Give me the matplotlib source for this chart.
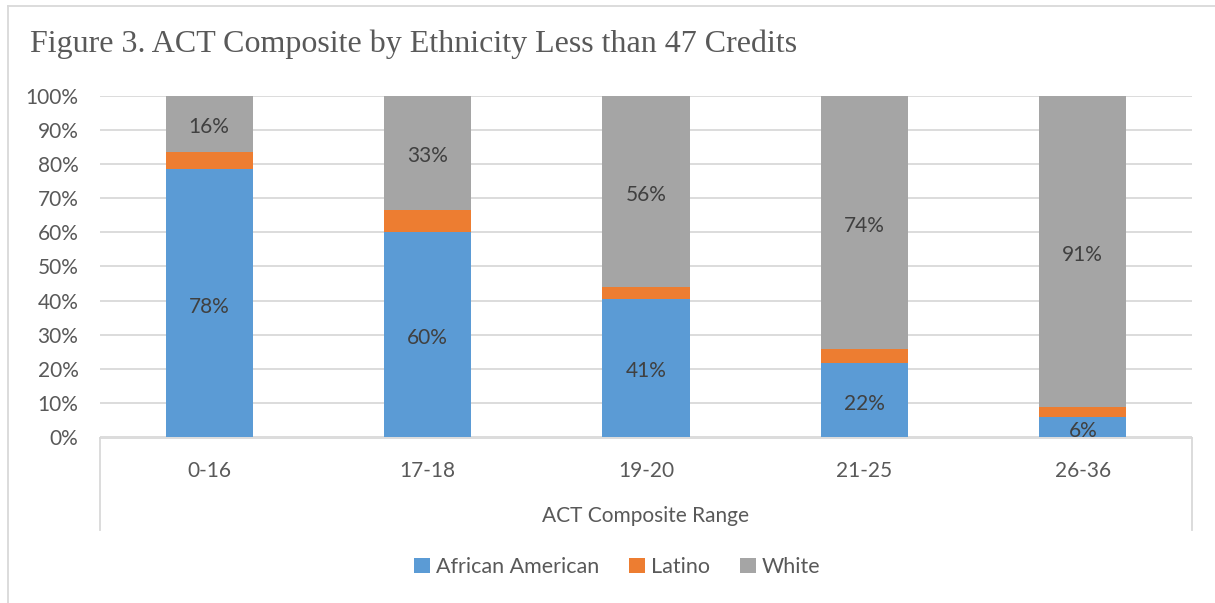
import numpy as np
import matplotlib
matplotlib.use("Agg")
import matplotlib.pyplot as plt
from matplotlib.lines import Line2D

# data (percent of students in each ACT range)
ranges = ["0-16", "17-18", "19-20", "21-25", "26-36"]
african_american = [78.5, 60.0, 40.6, 21.6, 5.8]
latino = [5.1, 6.6, 3.4, 4.3, 2.9]
white = [16.4, 33.4, 56.0, 74.1, 91.3]
series_names = ["African American", "Latino", "White"]
colors = ["#5B9BD5", "#ED7D31", "#A5A5A5"]

W, H = 1215, 603
FS = 15
fig = plt.figure(figsize=(W / 100, H / 100), dpi=100)

def fx(px):
    return px / W

def fy(py):
    return 1 - py / H

ax = fig.add_axes([fx(100), fy(437), fx(1192) - fx(100), fy(96) - fy(437)])

x = np.arange(len(ranges))
values = [african_american, latino, white]
bottom = np.zeros(len(ranges))
for name, vals, c in zip(series_names, values, colors):
    vals = np.array(vals)
    ax.bar(x, vals, width=0.4, bottom=bottom, color=c, label=name, zorder=3)
    if name != "Latino":
        for xi, b, v in zip(x, bottom, vals):
            ax.annotate(f"{round(v)}%", (xi, b + v / 2), xytext=(0, -2.5),
                        textcoords="offset points", ha="center", va="center",
                        fontsize=FS, color="#404040", family="Lato", zorder=4)
    bottom += vals

ax.set_xlim(-0.5, len(ranges) - 0.5)
ax.set_ylim(0, 100)
ax.set_yticks(np.arange(0, 101, 10))
ax.set_yticklabels([f"{v}%" for v in range(0, 101, 10)], fontsize=FS,
                   color="#595959", family="Lato")
ax.tick_params(axis="y", length=0, pad=15.5)
ax.set_xticks(x)
ax.set_xticklabels(ranges, fontsize=FS, color="#595959", family="Lato")
ax.tick_params(axis="x", length=0, pad=17)
ax.grid(axis="y", color="#D9D9D9", linewidth=1.3, zorder=0)
for s in ax.spines.values():
    s.set_visible(False)

# category axis box
grey = "#D9D9D9"
fig.add_artist(Line2D([fx(100), fx(1192)], [fy(437.5), fy(437.5)], color=grey, lw=1.3))
fig.add_artist(Line2D([fx(100), fx(100)], [fy(437.5), fy(530)], color=grey, lw=1.3))
fig.add_artist(Line2D([fx(1192), fx(1192)], [fy(437.5), fy(530)], color=grey, lw=1.3))

# outer chart frame
fig.add_artist(Line2D([fx(8), fx(8)], [fy(6), 0], color=grey, lw=1.3))
fig.add_artist(Line2D([fx(8), 1], [fy(6), fy(6)], color=grey, lw=1.3))

fig.text(fx(646), fy(516), "ACT Composite Range", ha="center", va="center",
         fontsize=FS, color="#595959", family="Lato")
fig.text(fx(30), fy(44), "Figure 3. ACT Composite by Ethnicity Less than 47 Credits",
         ha="left", va="center", fontsize=23, color="#595959", family="Liberation Serif")

leg = fig.legend(loc="center", bbox_to_anchor=(fx(617), fy(567)), ncol=3, frameon=False,
                 prop={"family": "Lato", "size": 15.5}, handlelength=0.75, handleheight=0.75,
                 handletextpad=0.25, columnspacing=1.4)
for t in leg.get_texts():
    t.set_color("#595959")

fig.savefig("out.png", dpi=100)
